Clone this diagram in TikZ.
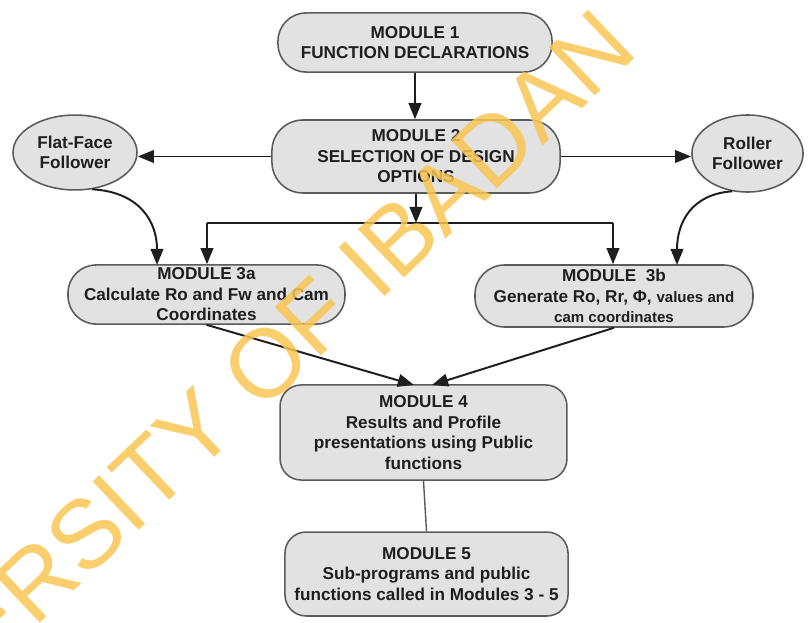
\documentclass[tikz,border=0pt]{standalone}
\usepackage{fontspec}
\setmainfont{Liberation Sans}
\usetikzlibrary{arrows.meta,shapes.geometric}
\definecolor{boxfill}{RGB}{226,226,226}
\definecolor{boxdraw}{RGB}{90,90,90}
\definecolor{ink}{RGB}{30,30,30}
\definecolor{wm}{RGB}{249,197,82}
\tikzset{
  modbox/.style={draw=boxdraw, fill=boxfill, line width=1.1pt, inner sep=0pt, align=center,
    text=ink, font=\fontsize{12.2}{14.6}\selectfont\bfseries},
  follower/.style={modbox, ellipse},
  conn/.style={draw=ink, line width=1.4pt},
  arr/.style={conn, -{Triangle[length=11.5pt,width=9pt]}},
  wmark/.style={text=wm, text opacity=0.85, font=\fontsize{69}{69}\selectfont, inner sep=0pt}
}
\begin{document}
\begin{tikzpicture}[x=0.025cm,y=-0.025cm]
\useasboundingbox (0,0) rectangle (808,623);
% boxes
\node[modbox, rounded corners=20pt, minimum width=194.9pt, minimum height=42pt] (m1) at (415,42.5)
  {MODULE 1\\FUNCTION DECLARATIONS};
\node[modbox, rounded corners=22pt, minimum width=204.9pt, minimum height=51.9pt] (m2) at (416,156.5)
  {MODULE 2\\SELECTION OF DESIGN\\OPTIONS};
\node[follower, minimum width=88.2pt, minimum height=53.3pt] (flat) at (75,152.5)
  {Flat-Face\\Follower};
\node[follower, minimum width=79pt, minimum height=54.8pt] (roller) at (747.5,153.5)
  {Roller\\Follower};
\node[modbox, rounded corners=20pt, minimum width=197pt, minimum height=42pt] (m3a) at (206.5,294.5)
  {MODULE 3a\\Calculate Ro and Fw and Cam\\Coordinates};
\node[modbox, rounded corners=21pt, minimum width=197.7pt, minimum height=44.1pt] (m3b) at (614,296)
  {MODULE\ \ 3b\\Generate Ro, Rr, Φ, {\fontsize{10.7}{12}\selectfont values and}\\{\fontsize{10.7}{12}\selectfont cam coordinates}};
\node[modbox, rounded corners=15pt, minimum width=204pt, minimum height=67.6pt] (m4) at (423.5,432.5)
  {MODULE 4\\Results and Profile\\presentations using Public\\functions};
\node[modbox, rounded corners=15pt, minimum width=201.3pt, minimum height=59.7pt] (m5) at (426.5,574)
  {MODULE 5\\Sub-programs and public\\functions called in Modules 3 - 5};
% helper coordinates
\coordinate (j) at (416,223);
\coordinate (jl) at (207,223);
\coordinate (jr) at (613,223);
\coordinate (fin) at (157,265);
\coordinate (rin) at (677,265);
\coordinate (t4l) at (414,385);
\coordinate (t4r) at (432,385);
% connectors
\draw[arr] (m1.south) -- (m1.south |- m2.north);
\draw[arr] (m2.west) -- (m2.west -| flat.east);
\draw[arr] (m2.east) -- (m2.east -| roller.west);
\draw[arr] (m2.south -| j) -- (j);
\draw[conn] (jl) -- (jr);
\draw[arr] (jl) -- (jl |- m3a.north);
\draw[arr] (jr) -- (jr |- m3b.north);
\draw[arr] (flat.-65) .. controls (140,192) and (157,222) .. (fin);
\draw[arr] (roller.-112) .. controls (692,194) and (677,222) .. (rin);
\draw[arr] (m3a.south) -- (t4l);
\draw[arr] (m3b.south) -- (t4r);
\draw[conn, draw=boxdraw, line width=1pt] (m4.south) -- (m5.north);
% watermark
\node[wmark, rotate=43.5] (wmk) at (207,419) {UNIVERSITY OF IBADAN};
\end{tikzpicture}
\end{document}
